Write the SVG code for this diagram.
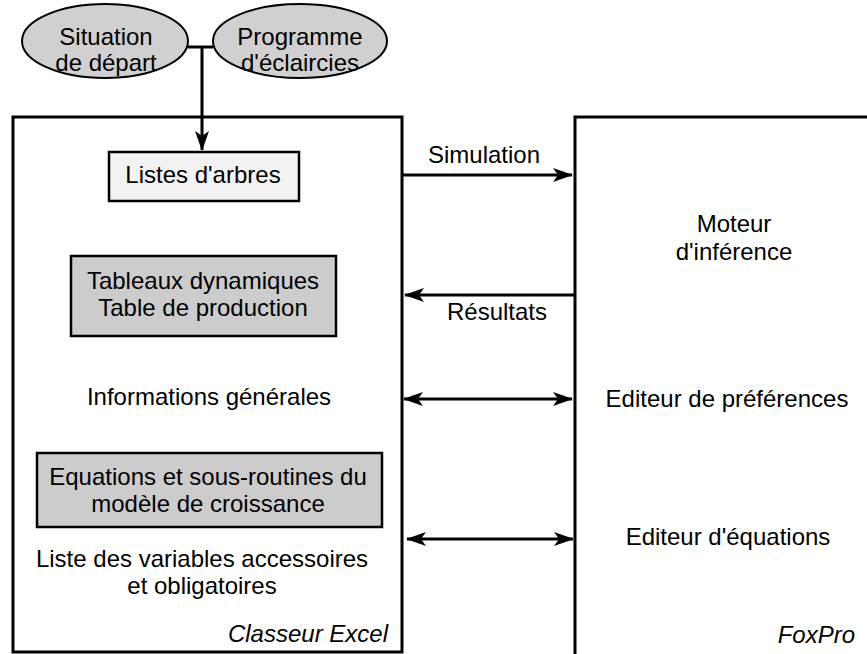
<svg xmlns="http://www.w3.org/2000/svg" width="867" height="654" viewBox="0 0 867 654">
<defs>
<style>
text{font-family:"Liberation Sans",Arial,sans-serif;font-size:24px;fill:#000;text-anchor:middle}
.it{font-style:italic;text-anchor:end}
.frame{fill:#fff;stroke:#000;stroke-width:3}
.ell{fill:#d0d0d0;stroke:#000;stroke-width:2}
.box{stroke:#000;stroke-width:2.5}
.ln{fill:none;stroke:#000;stroke-width:3}
</style>
<marker id="ah" viewBox="0 0 20 14" markerWidth="20" markerHeight="14" refX="19" refY="7" orient="auto-start-reverse" markerUnits="userSpaceOnUse">
<path d="M0,0 L20,7 L0,14 L5,7 z" fill="#000"/>
</marker>
</defs>
<g id="excel">
<rect class="frame" x="13" y="117" width="389" height="535"/>
<text class="it" x="388" y="642">Classeur Excel</text>
</g>
<g id="foxpro">
<rect class="frame" x="575" y="117" width="310" height="560"/>
<text class="it" x="855" y="643">FoxPro</text>
</g>
<g id="situation">
<ellipse class="ell" cx="105" cy="41" rx="83" ry="37"/>
<text x="106" y="45">Situation</text>
<text x="106" y="71">de départ</text>
</g>
<g id="programme">
<ellipse class="ell" cx="300" cy="41" rx="87" ry="37"/>
<text x="300" y="45">Programme</text>
<text x="300" y="71">d'éclaircies</text>
</g>
<g id="listes">
<rect class="box" x="109" y="152" width="190" height="49" fill="#f2f2f2"/>
<text x="203" y="183">Listes d'arbres</text>
</g>
<g id="tableaux">
<rect class="box" x="71" y="256" width="265" height="80" fill="#cccccc"/>
<text x="203" y="289">Tableaux dynamiques</text>
<text x="203" y="316">Table de production</text>
</g>
<g id="informations">
<text x="209" y="405">Informations générales</text>
</g>
<g id="equations">
<rect class="box" x="37" y="453" width="345" height="74" fill="#cccccc"/>
<text x="208" y="485">Equations et sous-routines du</text>
<text x="208" y="512">modèle de croissance</text>
</g>
<g id="variables">
<text x="202" y="567">Liste des variables accessoires</text>
<text x="202" y="594">et obligatoires</text>
</g>
<g id="moteur">
<text x="734" y="232">Moteur</text>
<text x="734" y="260">d'inférence</text>
</g>
<g id="prefs">
<text x="727" y="407">Editeur de préférences</text>
</g>
<g id="eqed">
<text x="728" y="545">Editeur d'équations</text>
</g>
<g id="connectors">
<polyline class="ln" points="188,47 213,47"/>
<line class="ln" x1="202" y1="47" x2="202" y2="150" marker-end="url(#ah)"/>
<line class="ln" x1="402" y1="175" x2="572" y2="175" marker-end="url(#ah)"/>
<text x="484" y="163">Simulation</text>
<line class="ln" x1="575" y1="295" x2="405" y2="295" marker-end="url(#ah)"/>
<text x="497" y="320">Résultats</text>
<line class="ln" x1="404" y1="399" x2="572" y2="399" marker-start="url(#ah)" marker-end="url(#ah)"/>
<line class="ln" x1="407" y1="539" x2="573" y2="539" marker-start="url(#ah)" marker-end="url(#ah)"/>
</g>
</svg>
